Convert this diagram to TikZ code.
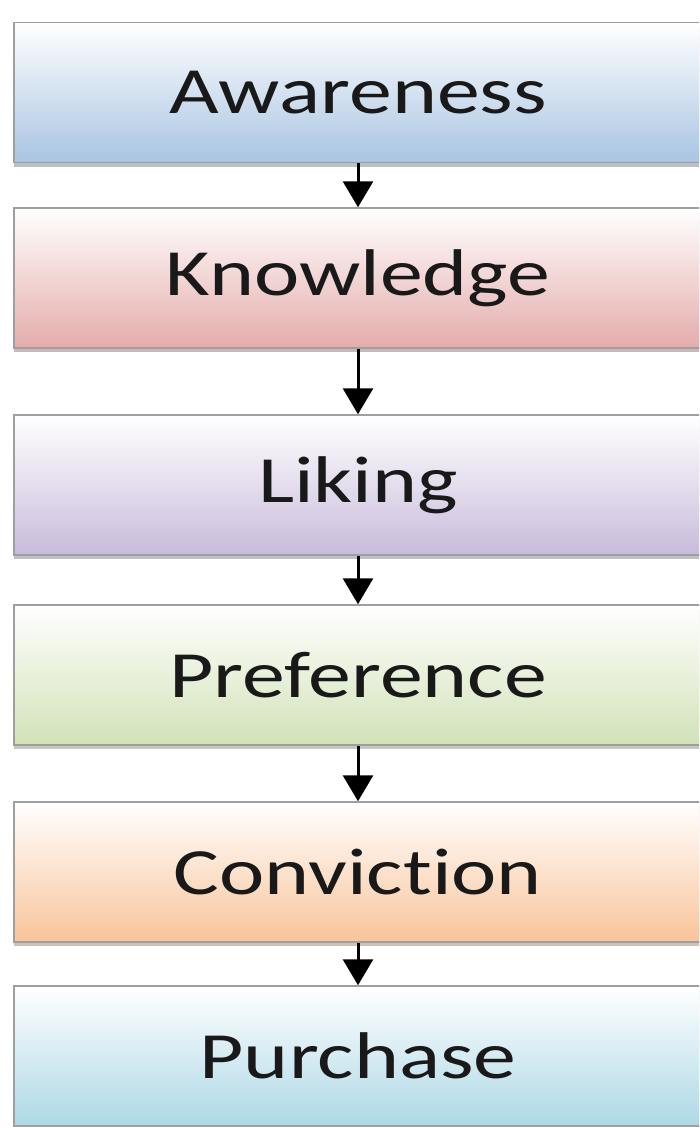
\documentclass[tikz,border=0pt]{standalone}
\usepackage{fontspec}
\setmainfont{Carlito}[Ligatures={NoCommon}]
\usetikzlibrary{arrows.meta,shadows}

\definecolor{awarebot}{HTML}{A9C4E2}
\definecolor{knowbot}{HTML}{E4ACAB}
\definecolor{likebot}{HTML}{C9BBDB}
\definecolor{prefbot}{HTML}{D2E2B8}
\definecolor{convbot}{HTML}{F9C49A}
\definecolor{purchbot}{HTML}{ADD8E6}

\newcommand{\stagetext}[1]{\scalebox{1.3}[1]{#1}}

\begin{document}
\begin{tikzpicture}
    [
        x=1pt, y=-1pt,
        stage/.style={rectangle, draw=gray!75, line width=1.5pt,
            minimum width=688pt, minimum height=140pt, inner sep=0pt,
            font=\fontsize{66}{70}\selectfont, text=black!90,
            top color=white, middle color=#1!40!white, bottom color=#1,
            drop shadow={shadow xshift=0pt, shadow yshift=-4pt, opacity=0.45, fill=#1!60!black},},
        edge/.style={-{Triangle[width=30pt,length=26pt]}, line width=3pt,},
    ]

    \clip (0,0) rectangle (699,1127);
    \fill [white] (0,0) rectangle (699,1127);

    % stages
    \node (aware) at (358,92.5)  [stage=awarebot] {\stagetext{Awareness}};
    \node (know)  at (358,278)   [stage=knowbot]  {\stagetext{Knowledge}};
    \node (like)  at (358,485)   [stage=likebot]  {\stagetext{Liking}};
    \node (pref)  at (358,675)   [stage=prefbot]  {\stagetext{Preference}};
    \node (conv)  at (358,872)   [stage=convbot]  {\stagetext{Conviction}};
    \node (purch) at (358,1056)  [stage=purchbot] {\stagetext{Purchase}};

    \draw [edge] (aware) -- (know);
    \draw [edge] (know)  -- (like);
    \draw [edge] (like)  -- (pref);
    \draw [edge] (pref)  -- (conv);
    \draw [edge] (conv)  -- (purch);
\end{tikzpicture}
\end{document}
